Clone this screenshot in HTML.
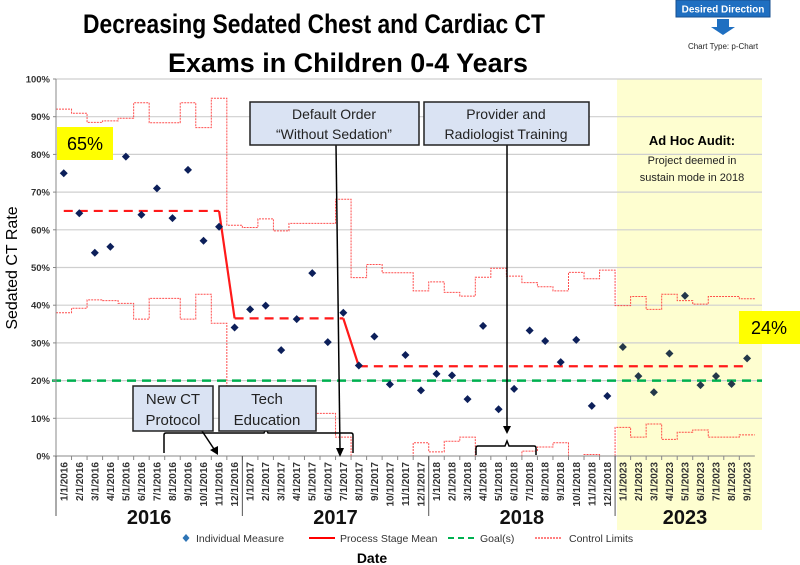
<!DOCTYPE html>
<html><head><meta charset="utf-8">
<style>
html,body{margin:0;padding:0;background:#fff;}
svg{display:block;font-family:"Liberation Sans",sans-serif;}
</style></head>
<body>
<svg id="chart" width="800" height="565" viewBox="0 0 800 565" xmlns="http://www.w3.org/2000/svg">
  <rect x="617" y="79" width="145" height="451" fill="#fefed0"/>
  <g id="grid"></g>
  <g id="limits"></g>
  <g id="goal"></g>
  <g id="mean"></g>
  <g id="points"></g>
  <g id="axes"></g>

  <text x="314" y="33" font-size="27" font-weight="bold" text-anchor="middle" textLength="462" lengthAdjust="spacingAndGlyphs">Decreasing Sedated Chest and Cardiac CT</text>
  <text x="348" y="72" font-size="27" font-weight="bold" text-anchor="middle" textLength="360" lengthAdjust="spacingAndGlyphs">Exams in Children 0-4 Years</text>

  <g>
    <rect x="676" y="0" width="94" height="17" fill="#1f6fc1" stroke="#174f8f"/>
    <text x="723" y="12.5" font-size="10" font-weight="bold" fill="#fff" text-anchor="middle">Desired Direction</text>
    <polygon points="717,19 729,19 729,27 735,27 723,35 711,27 717,27" fill="#1f6fc1"/>
    <text x="723" y="49" font-size="8" text-anchor="middle" fill="#222">Chart Type: p-Chart</text>
  </g>

  <text transform="translate(17,268) rotate(-90)" font-size="16" text-anchor="middle">Sedated CT Rate</text>
  <text x="372" y="563" font-size="14" font-weight="bold" text-anchor="middle">Date</text>

  <g>
    <rect x="57" y="127" width="56" height="33" fill="#ffff00"/>
    <text x="85" y="150" font-size="18" text-anchor="middle">65%</text>
  </g>
  <g>
    <rect x="739" y="311" width="61" height="33" fill="#ffff00"/>
    <text x="769" y="334" font-size="18" text-anchor="middle">24%</text>
  </g>

  <g>
    <text x="692" y="145" font-size="13" font-weight="bold" text-anchor="middle">Ad Hoc Audit:</text>
    <text x="692" y="164" font-size="11" text-anchor="middle" fill="#222">Project deemed in</text>
    <text x="692" y="181" font-size="11" text-anchor="middle" fill="#222">sustain mode in 2018</text>
  </g>

  <g>
    <line x1="336" y1="145" x2="340" y2="449" stroke="#000" stroke-width="1.5"/>
    <polygon points="336,448 344,448 340,457" fill="#000"/>
    <rect x="250" y="102" width="169" height="43" fill="#dae3f3" stroke="#222" stroke-width="1.5"/>
    <text x="334" y="119" font-size="14" text-anchor="middle" fill="#222">Default Order</text>
    <text x="334" y="139" font-size="14" text-anchor="middle" fill="#222">“Without Sedation”</text>
  </g>
  <g>
    <line x1="507" y1="145" x2="507" y2="427" stroke="#000" stroke-width="1.5"/>
    <polygon points="503,426 511,426 507,434" fill="#000"/>
    <path d="M476,455 L476,448 Q476,446 478,446 L505,446 L507,441 L509,446 L534,446 Q536,446 536,448 L536,455" fill="none" stroke="#000" stroke-width="1.5"/>
    <rect x="424" y="102" width="165" height="43" fill="#dae3f3" stroke="#222" stroke-width="1.5"/>
    <text x="506" y="119" font-size="14" text-anchor="middle" fill="#222">Provider and</text>
    <text x="506" y="139" font-size="14" text-anchor="middle" fill="#222">Radiologist Training</text>
  </g>
  <g>
    <path d="M164,453 L164,435 Q164,433 166,433 L264,433 L266,429 L268,433 L351,433 Q353,433 353,435 L353,453" fill="none" stroke="#000" stroke-width="1.5"/>
    <line x1="202" y1="431" x2="214" y2="449" stroke="#000" stroke-width="1.5"/>
    <polygon points="210,450 218,446 218,455" fill="#000"/>
    <rect x="133" y="386" width="80" height="45" fill="#dae3f3" stroke="#222" stroke-width="1.5"/>
    <text x="173" y="404" font-size="15" text-anchor="middle" fill="#222">New CT</text>
    <text x="173" y="425" font-size="15" text-anchor="middle" fill="#222">Protocol</text>
    <rect x="219" y="386" width="97" height="45" fill="#dae3f3" stroke="#222" stroke-width="1.5"/>
    <text x="267" y="404" font-size="15" text-anchor="middle" fill="#222">Tech</text>
    <text x="267" y="425" font-size="15" text-anchor="middle" fill="#222">Education</text>
  </g>

  <g font-size="10.5" fill="#333">
    <g>
      <polygon points="186,534 189.5,538 186,542 182.5,538" fill="#2e75b6"/>
      <text x="196" y="542">Individual Measure</text>
    </g>
    <g>
      <line x1="309" y1="538" x2="335" y2="538" stroke="#ff0000" stroke-width="2"/>
      <text x="340" y="542">Process Stage Mean</text>
    </g>
    <g>
      <line x1="448" y1="538" x2="477" y2="538" stroke="#00b050" stroke-width="2" stroke-dasharray="6,4"/>
      <text x="480" y="542">Goal(s)</text>
    </g>
    <g>
      <line x1="535" y1="538" x2="562" y2="538" stroke="#ff0000" stroke-width="1" stroke-dasharray="2,1"/>
      <text x="569" y="542">Control Limits</text>
    </g>
  </g>
</svg>
<script>
const categories = ["1/1/2016","2/1/2016","3/1/2016","4/1/2016","5/1/2016","6/1/2016","7/1/2016","8/1/2016","9/1/2016","10/1/2016","11/1/2016","12/1/2016",
"1/1/2017","2/1/2017","3/1/2017","4/1/2017","5/1/2017","6/1/2017","7/1/2017","8/1/2017","9/1/2017","10/1/2017","11/1/2017","12/1/2017",
"1/1/2018","2/1/2018","3/1/2018","4/1/2018","5/1/2018","6/1/2018","7/1/2018","8/1/2018","9/1/2018","10/1/2018","11/1/2018","12/1/2018",
"1/1/2023","2/1/2023","3/1/2023","4/1/2023","5/1/2023","6/1/2023","7/1/2023","8/1/2023","9/1/2023"];
const rateValues = [75,64.4,53.9,55.5,79.4,64,71,63.1,75.9,57.1,60.8,34.1,38.9,39.9,28.1,36.3,48.5,30.2,38,24,31.7,19,26.8,17.4,21.8,21.4,15.1,34.5,12.4,17.8,33.3,30.5,24.9,30.8,13.3,15.9,28.9,21.2,16.9,27.2,42.5,18.8,21.2,19.1,25.9];
const uclValues = [92,90.9,88.5,88.9,89.6,93.7,88.4,88.4,93.7,87.1,94.9,61.2,60.6,62.9,59.7,61.7,61.7,61.7,68.1,47.3,50.8,48.6,48.6,43.8,46.2,43.4,42.4,47.4,49.8,47.7,46,44.9,43.8,48.7,47,49.3,39.9,42.3,38.9,42.9,41.2,40.3,42.3,42.3,41.7];
const lclValues = [38,39.2,41.4,41.2,40.5,36.3,41.8,41.8,36.3,42.9,35.2,11.8,12.4,10.1,13.3,11.3,11.3,11.3,5,0,0,0,0,3.5,1.1,3.9,5,0,0,0,1.3,2.4,3.5,0,0.4,0,7.6,5,8.5,4.4,6.3,6.9,5,5,5.6];
const stageMeans = [65,36.5,23.8];
const stageStarts = [0,11,19];
const stageEnds = [10,18,44];
const goalValue = 20;
const yTicks = [0,10,20,30,40,50,60,70,80,90,100];
const years = ["2016","2017","2018","2023"];
const yearStartIdx = [0,12,24,36];
const yearEndIdx = [11,23,35,44];

const NS="http://www.w3.org/2000/svg";
const X0=56, SLOT=15.53, Y0=456, YSCALE=3.77, XR=762;
const xL = i => X0 + i*SLOT;
const xC = i => X0 + (i+0.5)*SLOT;
const yV = v => Y0 - v*YSCALE;
function mk(tag, attrs, parent){const e=document.createElementNS(NS,tag);for(const k in attrs)e.setAttribute(k,attrs[k]);parent.appendChild(e);return e;}

const grid=document.getElementById('grid');
yTicks.forEach(t=>{
  if(t>0){const l=mk('line',{x1:X0,x2:XR,y1:yV(t),y2:yV(t),stroke:'#cfcfcf','stroke-width':1.2},grid);
  
  }
});

const axes=document.getElementById('axes');
let ya=mk('line',{x1:X0,x2:X0,y1:yV(100),y2:yV(0),stroke:'#888'},axes);


let xa=mk('line',{x1:X0,x2:xL(categories.length),y1:Y0,y2:Y0,stroke:'#888'},axes);


yTicks.forEach(t=>{
  const tx=mk('text',{x:X0-6,y:yV(t)+3.5,'font-size':9.5,'font-weight':'bold','text-anchor':'end',fill:'#333'},axes);
  tx.textContent=t+'%';
  
  
  mk('line',{x1:X0-3,x2:X0,y1:yV(t),y2:yV(t),stroke:'#888'},axes);
});
categories.forEach((c,i)=>{
  mk('line',{x1:xL(i),x2:xL(i),y1:Y0,y2:Y0+4,stroke:'#888'},axes);
  const tx=mk('text',{transform:`translate(${xC(i)+3.5},${Y0+6}) rotate(-90)`,'font-size':10,'font-weight':'bold','text-anchor':'end',fill:'#333'},axes);
  tx.textContent=c;
  
  
});
years.forEach((y,k)=>{
  const a=xL(yearStartIdx[k]), b=xL(yearEndIdx[k]+1);
  const l=mk('line',{x1:a,x2:a,y1:Y0,y2:516,stroke:'#555'},axes);
  
  
  const tx=mk('text',{x:(a+b)/2,y:524,'font-size':20,'font-weight':'bold','text-anchor':'middle',fill:'#111'},axes);
  tx.textContent=y;
  
  
});

const limits=document.getElementById('limits');
function stepPath(vals){
  let d='';
  vals.forEach((v,i)=>{d+=(i===0?'M':'L')+xL(i)+','+yV(v)+' L'+xL(i+1)+','+yV(v)+' ';});
  return d;
}
let u=mk('path',{d:stepPath(uclValues),fill:'none',stroke:'#ff3030','stroke-width':1,'stroke-dasharray':'2,1',opacity:0.85},limits);


let lo=mk('path',{d:stepPath(lclValues),fill:'none',stroke:'#ff3030','stroke-width':1,'stroke-dasharray':'2,1',opacity:0.85},limits);



const goal=document.getElementById('goal');
let g=mk('line',{x1:X0-4,x2:XR,y1:yV(goalValue),y2:yV(goalValue),stroke:'#00b050','stroke-width':2.5,'stroke-dasharray':'9,6'},goal);



const mean=document.getElementById('mean');
stageMeans.forEach((m,k)=>{
  const l=mk('line',{x1:xC(stageStarts[k]),x2:xC(stageEnds[k]),y1:yV(m),y2:yV(m),stroke:'#ff1a1a','stroke-width':2.2,'stroke-dasharray':'9,6'},mean);
  
  
  if(k>0){
    const t=mk('line',{x1:xC(stageEnds[k-1]),y1:yV(stageMeans[k-1]),x2:xC(stageStarts[k]),y2:yV(m),stroke:'#ff1a1a','stroke-width':2.2},mean);
    
    
  }
});

const pts=document.getElementById('points');
rateValues.forEach((v,i)=>{
  const cx=xC(i), cy=yV(v), r=4;
  const p=mk('polygon',{points:`${cx},${cy-r} ${cx+r},${cy} ${cx},${cy+r} ${cx-r},${cy}`,fill:i>=36?'#24384a':'#0c1f5a'},pts);
  
  
});
</script>
</body></html>
